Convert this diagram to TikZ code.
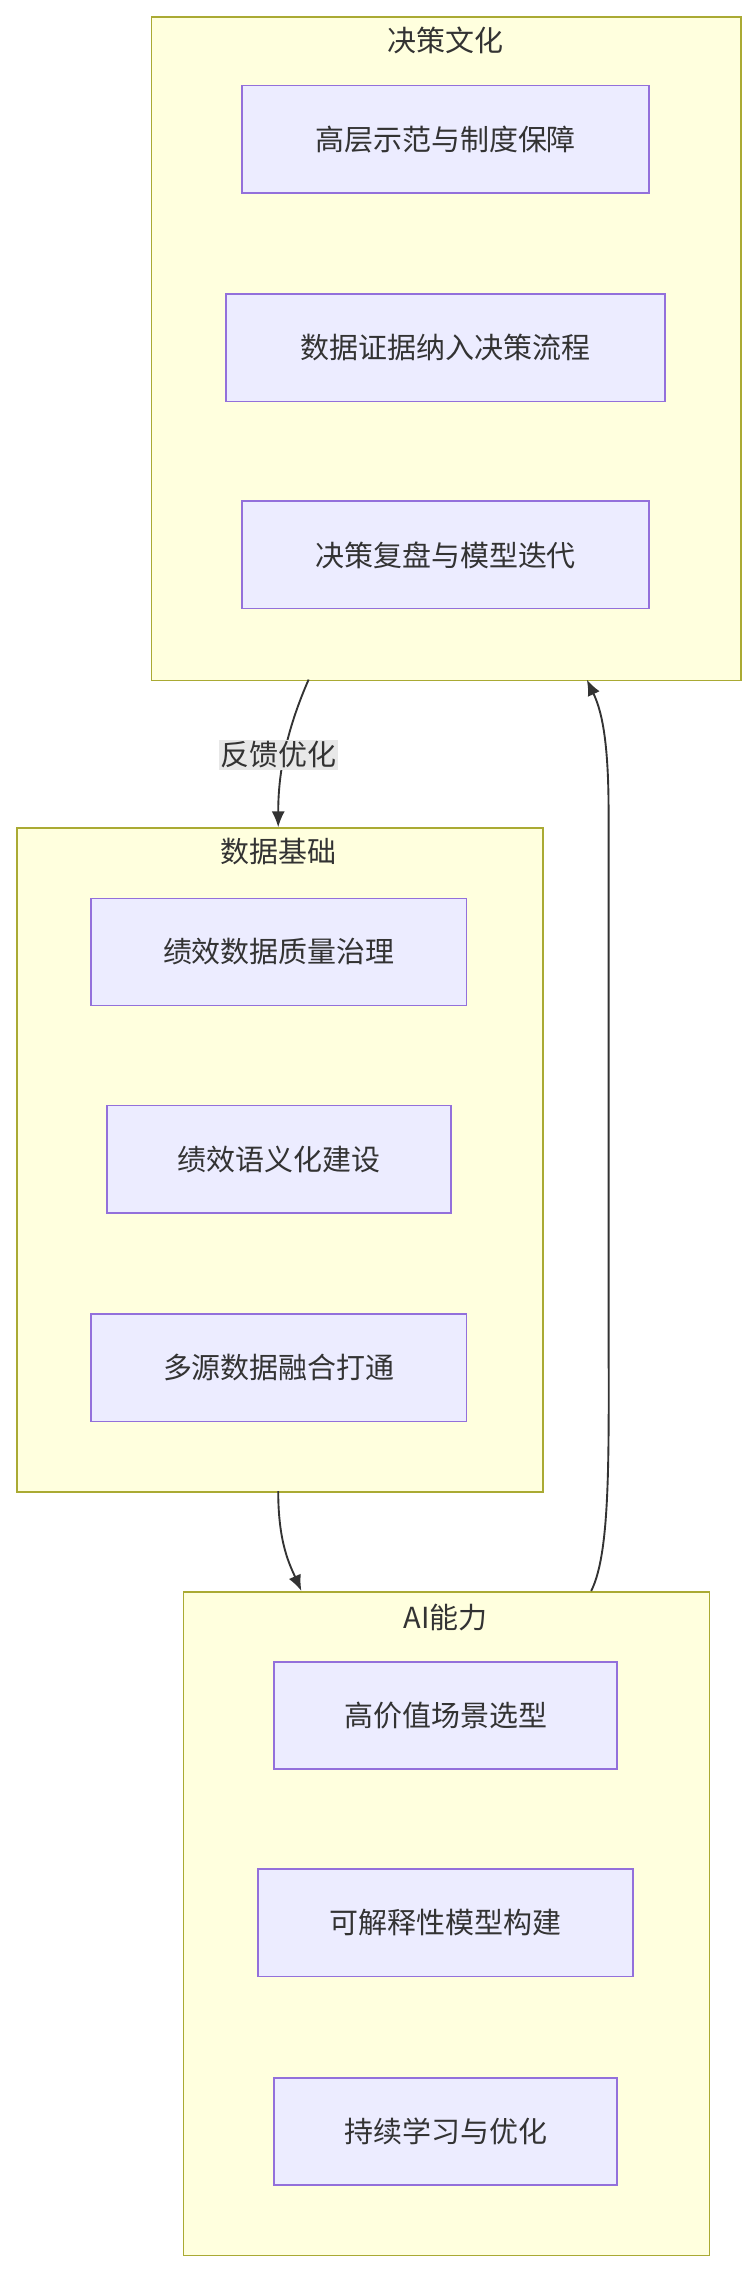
\documentclass[tikz,border=0pt]{standalone}
\usepackage{fontspec}
\setmainfont{Noto Sans CJK SC}
\usetikzlibrary{arrows.meta}
\definecolor{cfill}{HTML}{FFFFDE}\definecolor{cdraw}{HTML}{AAAA33}
\definecolor{nfill}{HTML}{ECECFF}\definecolor{ndraw}{HTML}{9370DB}
\definecolor{txt}{HTML}{333333}
\begin{document}
\begin{tikzpicture}[x=1pt,y=-1pt,
 clus/.style={draw=cdraw,fill=cfill,line width=1.2pt,inner sep=0,anchor=north west},
 box/.style={draw=ndraw,fill=nfill,line width=1.2pt,text=txt,font=\fontsize{20}{24}\selectfont,minimum height=74pt,inner sep=0},
 ttl/.style={text=txt,font=\fontsize{20}{24}\selectfont},
 edge/.style={draw=txt,line width=1.3pt,-{Latex[length=11pt,width=9pt]}}]
\useasboundingbox (0,0) rectangle (520,1568);
\node[clus,minimum width=407pt,minimum height=458pt] (K1) at (104,11) {};
\node[clus,minimum width=363pt,minimum height=458pt] (K2) at (11,571) {};
\node[clus,minimum width=363pt,minimum height=458pt] (K3) at (126,1098) {};
\node[ttl] (T1) at (307.5,28) {决策文化};
\node[ttl] (T2) at (192.5,588) {数据基础};
\node[ttl] (T3) at (307.5,1116) {AI能力};
\node[box,minimum width=281pt] (A1) at (307.5,96) {高层示范与制度保障};
\node[box,minimum width=303pt] (A2) at (307.5,240) {数据证据纳入决策流程};
\node[box,minimum width=281pt] (A3) at (307.5,383) {决策复盘与模型迭代};
\node[box,minimum width=259pt] (B1) at (192.5,657) {绩效数据质量治理};
\node[box,minimum width=237pt] (B2) at (192.5,800) {绩效语义化建设};
\node[box,minimum width=259pt] (B3) at (192.5,944) {多源数据融合打通};
\node[box,minimum width=237pt] (C1) at (307.5,1184) {高价值场景选型};
\node[box,minimum width=259pt] (C2) at (307.5,1327) {可解释性模型构建};
\node[box,minimum width=237pt] (C3) at (307.5,1471) {持续学习与优化};
\coordinate (p1) at (213,469);
\coordinate (p2) at (192,571);
\coordinate (p3) at (192,1029);
\coordinate (p4) at (208,1098);
\coordinate (p5) at (408,1098);
\coordinate (p6) at (405,469);
\draw[edge] (p1) .. controls (195,510) and (192,540) .. (p2);
\node[fill=black!9,text=txt,inner sep=1pt,font=\fontsize{20}{24}\selectfont] (L) at (192,521) {反馈优化};
\draw[edge] (p3) .. controls (192,1065) and (200,1080) .. (p4);
\draw[edge] (p5) .. controls (422,1070) and (420,1000) .. (420,900) -- (420,560) .. controls (420,510) and (415,490) .. (p6);
\end{tikzpicture}
\end{document}
